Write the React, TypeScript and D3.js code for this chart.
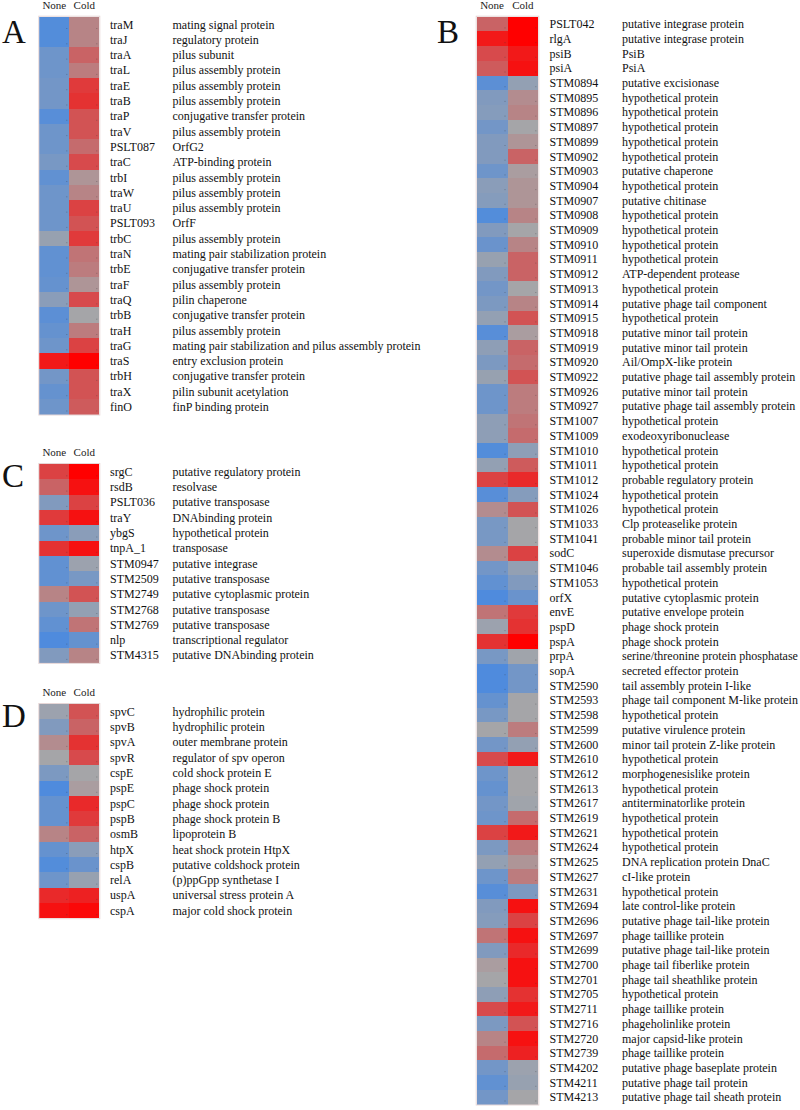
import React from 'react';
import * as d3 from 'd3';

// conditions (columns)
const conditions = ['None', 'Cold'];

// Panel A
const aGenes = ['traM', 'traJ', 'traA', 'traL', 'traE', 'traB', 'traP', 'traV', 'PSLT087', 'traC', 'trbI', 'traW', 'traU', 'PSLT093', 'trbC', 'traN', 'trbE', 'traF', 'traQ', 'trbB', 'traH', 'traG', 'traS', 'trbH', 'traX', 'finO'];
const aDesc = ['mating signal protein', 'regulatory protein', 'pilus subunit', 'pilus assembly protein', 'pilus assembly protein', 'pilus assembly protein', 'conjugative transfer protein', 'pilus assembly protein', 'OrfG2', 'ATP-binding protein', 'pilus assembly protein', 'pilus assembly protein', 'pilus assembly protein', 'OrfF', 'pilus assembly protein', 'mating pair stabilization protein', 'conjugative transfer protein', 'pilus assembly protein', 'pilin chaperone', 'conjugative transfer protein', 'pilus assembly protein', 'mating pair stabilization and pilus assembly protein', 'entry exclusion protein', 'conjugative transfer protein', 'pilin subunit acetylation', 'finP binding protein'];
const aNone = [-0.9, -0.9, -0.6, -0.6, -0.55, -0.55, -0.85, -0.6, -0.6, -0.5, -0.75, -0.6, -0.6, -0.6, -0.15, -0.75, -0.75, -0.7, -0.3, -0.8, -0.7, -0.6, 0.85, -0.55, -0.7, -0.6];
const aCold = [0.2, 0.2, 0.4, 0.25, 0.65, 0.7, 0.5, 0.5, 0.35, 0.55, 0.1, 0.2, 0.6, 0.5, 0.65, 0.3, 0.25, 0.1, 0.55, 0.0, 0.25, 0.6, 1.0, 0.5, 0.5, 0.45];

// Panel B
const bGenes = ['PSLT042', 'rlgA', 'psiB', 'psiA', 'STM0894', 'STM0895', 'STM0896', 'STM0897', 'STM0899', 'STM0902', 'STM0903', 'STM0904', 'STM0907', 'STM0908', 'STM0909', 'STM0910', 'STM0911', 'STM0912', 'STM0913', 'STM0914', 'STM0915', 'STM0918', 'STM0919', 'STM0920', 'STM0922', 'STM0926', 'STM0927', 'STM1007', 'STM1009', 'STM1010', 'STM1011', 'STM1012', 'STM1024', 'STM1026', 'STM1033', 'STM1041', 'sodC', 'STM1046', 'STM1053', 'orfX', 'envE', 'pspD', 'pspA', 'prpA', 'sopA', 'STM2590', 'STM2593', 'STM2598', 'STM2599', 'STM2600', 'STM2610', 'STM2612', 'STM2613', 'STM2617', 'STM2619', 'STM2621', 'STM2624', 'STM2625', 'STM2627', 'STM2631', 'STM2694', 'STM2696', 'STM2697', 'STM2699', 'STM2700', 'STM2701', 'STM2705', 'STM2711', 'STM2716', 'STM2720', 'STM2739', 'STM4202', 'STM4211', 'STM4213'];
const bDesc = ['putative integrase protein', 'putative integrase protein', 'PsiB', 'PsiA', 'putative excisionase', 'hypothetical protein', 'hypothetical protein', 'hypothetical protein', 'hypothetical protein', 'hypothetical protein', 'putative chaperone', 'hypothetical protein', 'putative chitinase', 'hypothetical protein', 'hypothetical protein', 'hypothetical protein', 'hypothetical protein', 'ATP-dependent protease', 'hypothetical protein', 'putative phage tail component', 'hypothetical protein', 'putative minor tail protein', 'putative minor tail protein', 'Ail/OmpX-like protein', 'putative phage tail assembly protein', 'putative minor tail protein', 'putative phage tail assembly protein', 'hypothetical protein', 'exodeoxyribonuclease', 'hypothetical protein', 'hypothetical protein', 'probable regulatory protein', 'hypothetical protein', 'hypothetical protein', 'Clp proteaselike protein', 'probable minor tail protein', 'superoxide dismutase precursor', 'probable tail assembly protein', 'hypothetical protein', 'putative cytoplasmic protein', 'putative envelope protein', 'phage shock protein', 'phage shock protein', 'serine/threonine protein phosphatase', 'secreted effector protein', 'tail assembly protein I-like', 'phage tail component M-like protein', 'hypothetical protein', 'putative virulence protein', 'minor tail protein Z-like protein', 'hypothetical protein', 'morphogenesislike protein', 'hypothetical protein', 'antiterminatorlike protein', 'hypothetical protein', 'hypothetical protein', 'hypothetical protein', 'DNA replication protein DnaC', 'cI-like protein', 'hypothetical protein', 'late control-like protein', 'putative phage tail-like protein', 'phage taillike protein', 'putative phage tail-like protein', 'phage tail fiberlike protein', 'phage tail sheathlike protein', 'hypothetical protein', 'phage taillike protein', 'phageholinlike protein', 'major capsid-like protein', 'phage taillike protein', 'putative phage baseplate protein', 'putative phage tail protein', 'putative phage tail sheath protein'];
const bNone = [0.4, 0.85, 0.55, 0.45, -0.8, -0.4, -0.35, -0.55, -0.4, -0.4, -0.6, -0.3, -0.35, -0.9, -0.4, -0.65, -0.15, -0.4, -0.55, -0.45, -0.2, -0.85, -0.25, -0.45, -0.15, -0.6, -0.6, -0.25, -0.25, -0.9, -0.2, 0.6, -0.85, 0.15, -0.5, -0.5, 0.15, -0.55, -0.75, -0.95, 0.3, -0.1, 0.7, -0.5, -0.95, -0.95, -0.7, -0.5, 0.0, -0.55, 0.55, -0.6, -0.7, -0.55, -0.6, 0.6, -0.45, -0.2, -0.6, -0.85, -0.4, -0.35, 0.3, -0.4, 0.05, 0.0, -0.25, 0.55, -0.45, 0.2, 0.35, -0.55, -0.75, -0.55];
const bCold = [1.0, 1.0, 0.85, 0.9, -0.2, 0.15, 0.2, 0.0, 0.1, 0.4, 0.05, 0.1, 0.1, 0.2, 0.0, 0.2, 0.4, 0.4, 0.0, 0.2, 0.5, 0.05, 0.4, 0.35, 0.5, 0.25, 0.25, 0.3, 0.35, -0.25, 0.45, 0.75, -0.35, 0.5, 0.0, 0.0, 0.6, -0.2, -0.4, -0.65, 0.65, 0.7, 1.0, -0.05, -0.55, -0.55, 0.0, 0.0, 0.25, -0.2, 0.85, 0.0, 0.0, -0.05, 0.35, 0.85, 0.25, 0.1, 0.25, -0.45, 0.9, 0.6, 0.9, 0.75, 0.9, 0.9, 0.7, 0.85, 0.5, 0.9, 0.8, -0.1, -0.15, 0.0];

// Panel C
const cGenes = ['srgC', 'rsdB', 'PSLT036', 'traY', 'ybgS', 'tnpA_1', 'STM0947', 'STM2509', 'STM2749', 'STM2768', 'STM2769', 'nlp', 'STM4315'];
const cDesc = ['putative regulatory protein', 'resolvase', 'putative transposase', 'DNAbinding protein', 'hypothetical protein', 'transposase', 'putative integrase', 'putative transposase', 'putative cytoplasmic protein', 'putative transposase', 'putative transposase', 'transcriptional regulator', 'putative DNAbinding protein'];
const cNone = [0.6, 0.4, -0.4, 0.65, -0.6, 0.7, -0.75, -0.75, 0.2, -0.6, -0.75, -0.95, -0.4];
const cCold = [1.0, 0.9, 0.6, 0.9, -0.3, 0.9, -0.1, -0.5, 0.5, -0.2, 0.3, -0.7, 0.2];

// Panel D
const dGenes = ['spvC', 'spvB', 'spvA', 'spvR', 'cspE', 'pspE', 'pspC', 'pspB', 'osmB', 'htpX', 'cspB', 'relA', 'uspA', 'cspA'];
const dDesc = ['hydrophilic protein', 'hydrophilic protein', 'outer membrane protein', 'regulator of spv operon', 'cold shock protein E', 'phage shock protein', 'phage shock protein', 'phage shock protein B', 'lipoprotein B', 'heat shock protein HtpX', 'putative coldshock protein', '(p)ppGpp synthetase I', 'universal stress protein A', 'major cold shock protein'];
const dNone = [-0.1, -0.4, 0.15, 0.0, -0.45, -0.95, -0.7, -0.7, 0.2, -0.7, -0.9, -0.6, 0.75, 0.9];
const dCold = [0.5, 0.4, 0.7, 0.55, 0.0, 0.05, 0.75, 0.65, 0.4, -0.3, -0.65, -0.15, 0.8, 0.95];

const color = d3.scaleLinear<string>()
  .domain([-1, 0, 1])
  .range(['#4a8ae0', '#a5a5a8', '#ff0000'])
  .interpolate(d3.interpolateRgb)
  .clamp(true);

const font = '"Liberation Serif", "Times New Roman", serif';

type PanelProps = {
  letter: string;
  letterX: number;
  letterY: number;
  left: number;
  top: number;
  colW: number;
  rowH: number;
  geneX: number;
  descX: number;
  genes: string[];
  desc: string[];
  none: number[];
  cold: number[];
};

const Panel = (p: PanelProps) => {
  const x = d3.scaleBand().domain(conditions).range([p.left, p.left + 2 * p.colW]);
  const y = d3.scaleBand().domain(p.genes).range([p.top, p.top + p.rowH * p.genes.length]);
  const vals = [p.none, p.cold];

  return (
    <g>
      <text x={p.letterX} y={p.letterY} fontSize={33} fontFamily={font} fill="#111">{p.letter}</text>
      {conditions.map(c => (
        <text key={c} x={x(c)! + x.bandwidth() / 2} y={p.top - 8} fontSize={11} fontFamily={font}
          textAnchor="middle" fill="#222">{c}</text>
      ))}
      {p.genes.map((g, i) => (
        <g key={g}>
          {conditions.map((c, j) => (
            <g key={c}>
              <rect x={x(c)} y={y(g)} width={x.bandwidth()} height={y.bandwidth()}
                fill={color(vals[j][i])} shapeRendering="crispEdges" />
              {/* tiny speck seen at each cell's lower right in the original */}
              <rect x={x(c)! + x.bandwidth() - 3} y={y(g)! + y.bandwidth() - 4} width={1} height={1}
                fill="#333" opacity={0.35} />
            </g>
          ))}
          <text x={p.geneX} y={y(g)! + y.bandwidth() / 2} dy="0.35em" fontSize={12} fontFamily={font} fill="#111">{g}</text>
          <text x={p.descX} y={y(g)! + y.bandwidth() / 2} dy="0.35em" fontSize={12} fontFamily={font} fill="#111">{p.desc[i]}</text>
        </g>
      ))}
      <rect x={p.left - 0.5} y={p.top - 0.5} width={2 * p.colW + 1} height={y.range()[1] - p.top + 1}
        fill="none" stroke="#e6d6d6" strokeWidth={1} />
    </g>
  );
};

export default function App() {
  return (
    <svg width={800} height={1110} style={{ position: 'absolute', left: 0, top: 0, background: '#fff' }}>
      <Panel letter="A" letterX={2} letterY={43} left={39.3} top={16.7} colW={30} rowH={15.3}
        geneX={110} descX={172.5} genes={aGenes} desc={aDesc} none={aNone} cold={aCold} />
      <Panel letter="B" letterX={437} letterY={43} left={476.7} top={16.7} colW={30.8} rowH={14.7}
        geneX={549.5} descX={622} genes={bGenes} desc={bDesc} none={bNone} cold={bCold} />
      <Panel letter="C" letterX={2} letterY={487} left={39.3} top={464} colW={30} rowH={15.3}
        geneX={110} descX={172.5} genes={cGenes} desc={cDesc} none={cNone} cold={cCold} />
      <Panel letter="D" letterX={2} letterY={727} left={39.3} top={704} colW={30} rowH={15.3}
        geneX={110} descX={172.5} genes={dGenes} desc={dDesc} none={dNone} cold={dCold} />
    </svg>
  );
}
